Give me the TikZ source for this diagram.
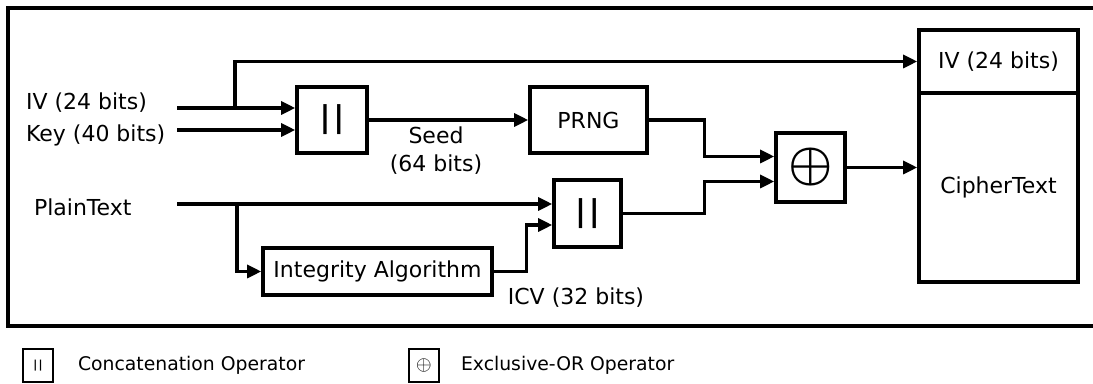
\documentclass[tikz,border=0pt]{standalone}
\usepackage{amsmath}
\usepackage{fontspec}
\setmainfont{DejaVu Sans}
\usetikzlibrary{arrows.meta,calc}

\begin{document}
\begin{tikzpicture}[x=0.5pt,y=-0.5pt,
		caja/.style={draw, line width=1.8pt, inner sep=0pt, minimum height=33pt},
		flecha/.style={line width=1.6pt, -{Triangle[length=7pt,width=6.5pt]}},
		barras/.style={font=\fontsize{15}{15}\selectfont\bfseries},
		leyenda/.style={draw, line width=0.8pt, inner sep=0pt, minimum width=15pt, minimum height=16.5pt},
		every node/.append style={font=\fontsize{11}{14}\selectfont}]
			\useasboundingbox (0,0) rectangle (1093,384);
			
			% Marco
			\draw[line width=2.2pt] (8,8) rectangle (1110,326);
			
			% Bloques
			\node[caja, minimum width=35pt, barras] (cat1) at (332,120) {|\kern1.5pt|};
			\node[caja, minimum width=58.5pt] (prng) at (588.5,120) {PRNG};
			\node[caja, minimum width=33.5pt, minimum height=33.5pt, barras] (cat2) at (587.5,213.5) {|\kern1.5pt|};
			\node[caja, minimum width=34.5pt, minimum height=34.5pt] (xor) at (810.5,167.5) {\fontsize{28}{28}\selectfont$\boldsymbol{\oplus}$};
			\node[caja, minimum width=114.5pt, minimum height=23.5pt] (integ) at (377.5,271.5) {Integrity Algorithm};
			\node[caja, minimum width=79.5pt, minimum height=31.5pt] (ivbox) at (998.5,61.5) {IV (24 bits)};
			\node[caja, minimum width=79.5pt, minimum height=94.5pt] (ctbox) at (998.5,187.5) {CipherText};
			
			% Entradas
			\node[anchor=west] (ivlbl) at (19,103) {IV (24 bits)};
			\node[anchor=west] (keylbl) at (19,135) {Key (40 bits)};
			\node[anchor=west] (ptlbl) at (27,207) {PlainText};
			\coordinate (ivin) at (177,108);
			\coordinate (keyin) at (177,130);
			\coordinate (ptin) at (177,204);
			\coordinate (ivfork) at (235,108);
			\coordinate (ptfork) at (237,204);
			
			% Conexiones
			\draw[flecha] (ivin) -- (ivin -| cat1.west);
			\draw[flecha] (keyin) -- (keyin -| cat1.west);
			\draw[flecha] (ivfork) |- (ivbox.west);
			\draw[flecha] (cat1.east) -- (prng.west);
			\draw[flecha] (prng.east) -- ++(56,0) |- ($(xor.west)+(0,-11)$);
			\draw[flecha] (cat2.east) -- ++(82,0) |- ($(xor.west)+(0,14)$);
			\draw[flecha] (ptin) -- (ptin -| cat2.west);
			\draw[flecha] (ptfork) |- (integ.west);
			\draw[flecha] (integ.east) -- ++(33,0) |- ($(cat2.west)+(0,11.5)$);
			\draw[flecha] (xor.east) -- (xor.east -| ctbox.west);
			
			% Etiquetas
			\node[align=center] (seed) at (436,151) {Seed\\(64 bits)};
			\node (icv) at (576,298) {ICV (32 bits)};
			
			% Leyenda
			\node[leyenda, font=\fontsize{5.5}{5.5}\selectfont\bfseries] (legcat) at (38,365.5) {|\kern0.6pt|};
			\node[anchor=west, font=\fontsize{9.4}{11}\selectfont] (legcattxt) at (71,365) {Concatenation Operator};
			\node[leyenda, font=\fontsize{10}{10}\selectfont] (legxor) at (424,365.5) {$\oplus$};
			\node[anchor=west, font=\fontsize{9.4}{11}\selectfont] (legxortxt) at (454,365) {Exclusive-OR Operator};
		\end{tikzpicture}
\end{document}
